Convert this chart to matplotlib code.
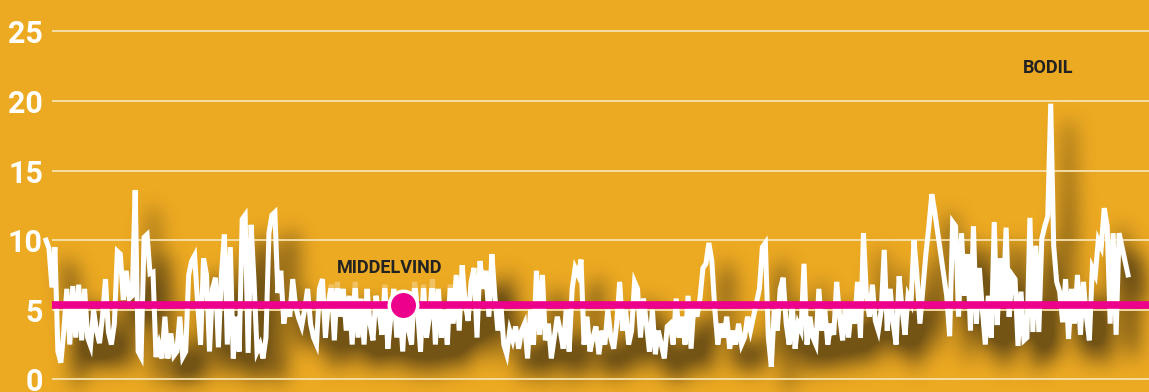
import numpy as np
import matplotlib
matplotlib.use("Agg")
import matplotlib.pyplot as plt

# daily mean wind (m/s)
wind = [
    10.0, 9.4, 6.6, 9.5, 2.0, 1.2, 3.5, 6.5, 2.5, 6.7, 3.0, 6.8, 2.8, 6.5, 3.0,
    2.4, 5.0, 3.5, 2.6, 4.5, 7.2, 3.4, 2.5, 4.0, 9.2, 9.0, 5.7, 7.8, 5.8, 6.0,
    13.6, 2.0, 1.6, 10.2, 10.4, 7.6, 7.7, 1.6, 2.5, 1.5, 4.5, 1.5, 3.3, 1.7, 2.0,
    4.5, 1.6, 2.0, 7.5, 8.5, 8.9, 5.5, 2.5, 8.7, 7.5, 2.0, 6.5, 7.3, 2.3, 7.5,
    10.4, 2.5, 9.5, 1.5, 4.5, 2.0, 11.5, 11.8, 1.9, 11.1, 7.0, 2.0, 2.5, 1.5, 3.0,
    10.5, 11.8, 12.0, 6.2, 7.8, 4.0, 5.5, 4.5, 7.2, 5.2, 4.4, 3.8, 5.0, 6.5, 4.0,
    3.0, 2.5, 6.5, 7.2, 3.0, 5.5, 6.8, 2.8, 7.0, 4.5, 6.5, 3.5, 6.0, 2.5, 7.0,
    3.0, 5.8, 2.5, 6.5, 4.0, 2.8, 6.0, 5.0, 3.2, 6.8, 2.2, 4.5, 6.5, 3.0, 5.5,
    2.0, 6.0, 3.5, 2.5, 7.0, 5.0, 2.0, 6.8, 3.0, 4.5, 7.2, 2.5, 6.5, 3.0, 5.0,
    2.5, 6.8, 4.0, 7.5, 3.5, 8.2, 5.5, 4.2, 7.0, 8.0, 3.0, 8.5, 6.5, 7.8, 4.5,
    9.0, 6.0, 3.5, 5.5, 2.5, 1.8, 3.5, 2.8, 3.8, 2.2, 3.5, 4.0, 1.5, 5.0, 2.5,
    7.8, 3.2, 7.5, 2.8, 4.0, 1.5, 3.0, 4.5, 3.5, 2.2, 5.0, 2.0, 6.5, 8.0, 7.5,
    8.6, 2.5, 4.5, 2.0, 3.0, 3.8, 1.8, 3.5, 2.5, 5.0, 3.0, 2.2, 4.0, 7.0, 3.5,
    5.0, 2.5, 3.5, 7.0, 6.5, 3.0, 5.8, 4.0, 2.0, 5.0, 1.8, 3.5, 2.5, 1.5, 3.8,
    4.0, 2.5, 5.8, 3.0, 4.5, 2.5, 6.0, 2.2, 5.5, 4.5, 5.8, 8.0, 8.3, 9.8, 8.5,
    5.0, 2.5, 4.0, 3.0, 4.5, 2.2, 3.5, 2.5, 4.0, 2.5, 3.0, 4.5, 3.5, 4.5, 5.5,
    6.5, 9.5, 9.8, 3.0, 0.9, 5.0, 3.5, 6.5, 7.3, 4.0, 2.5, 5.5, 2.2, 4.0, 3.5,
    8.3, 2.5, 4.5, 3.0, 2.5, 6.5, 3.5, 5.0, 2.5, 4.0, 3.2, 7.0, 4.5, 2.8, 5.5,
    3.0, 5.5, 4.0, 7.0, 3.0, 10.5, 6.0, 4.5, 6.8, 4.2, 3.5, 5.0, 9.3, 3.5, 6.5,
    4.0, 2.5, 7.4, 5.0, 3.2, 6.0, 5.5, 10.0, 7.5, 4.0, 6.5, 9.0, 11.0, 13.3, 12.0,
    10.5, 9.0, 7.5, 6.0, 3.1, 11.3, 11.0, 4.5, 10.5, 6.0, 9.0, 3.5, 11.0, 4.0, 8.0,
    5.0, 2.5, 6.0, 3.0, 11.3, 3.9, 8.7, 5.4, 10.9, 4.5, 7.5, 7.2, 2.4, 6.3, 2.8,
    3.0, 11.6, 3.4, 9.6, 3.4, 10.1, 11.0, 11.7, 19.8, 9.6, 7.0, 6.3, 4.1, 7.2, 2.9,
    6.5, 4.0, 7.5, 3.2, 7.0, 4.5, 2.8, 8.0, 7.5, 10.0, 9.5, 12.3, 11.0, 4.0, 10.5,
    3.2, 10.5, 9.5, 8.5, 7.5,
]
days = np.arange(len(wind))
mean_wind = 5.35
mean_day = 120
yticks = [0, 5, 10, 15, 20, 25]
ytick_labels = ["0", "5", "10", "15", "20", "25"]

ORANGE = "#ECA922"
MAGENTA = "#EC008C"
GRID = "#F7E2AE"
SHADOW = np.array([0.27, 0.20, 0.07])

W, H, DPI = 1149, 392, 100
ax_rect = [52 / W, 0, 1 - 52 / W, 1]
px_per_day = 1082 / 364
x0 = (52 - 46) / px_per_day
xlim = (x0, x0 + (W - 52) / px_per_day)
ylim = (-0.91, 27.25)


def setup(fig):
    ax = fig.add_axes(ax_rect)
    ax.set_xlim(*xlim)
    ax.set_ylim(*ylim)
    ax.set_facecolor("none")
    for s in ax.spines.values():
        s.set_visible(False)
    return ax


# --- shadow: render line alone, blur it, shift it
sfig = plt.figure(figsize=(W / DPI, H / DPI), dpi=DPI)
sfig.patch.set_alpha(0)
sax = setup(sfig)
sax.axis("off")
sax.plot(days, wind, color="black", lw=4.0, clip_on=False)
sfig.canvas.draw()
alpha = np.asarray(sfig.canvas.buffer_rgba())[:, :, 3].astype(float) / 255.0
plt.close(sfig)

sigma = 10.0
k = np.arange(-int(3 * sigma), int(3 * sigma) + 1)
kern = np.exp(-0.5 * (k / sigma) ** 2)
kern /= kern.sum()
pad = len(k)
a = np.pad(alpha, pad)
blur = np.zeros_like(a)
for kk, w in zip(k, kern):
    blur += w * np.roll(a, kk, axis=1)
a2 = np.zeros_like(blur)
for kk, w in zip(k, kern):
    a2 += w * np.roll(blur, kk, axis=0)
dx, dy = 18, 22
a2 = np.roll(np.roll(a2, dy, axis=0), dx, axis=1)[pad:-pad, pad:-pad]
a2 = np.clip(a2 * 0.95, 0, 0.72)
shadow = np.zeros((H, W, 4))
shadow[:, :, :3] = SHADOW
shadow[:, :, 3] = a2

# --- main figure
fig = plt.figure(figsize=(W / DPI, H / DPI), dpi=DPI, facecolor=ORANGE)
fig.figimage(shadow, 0, 0, origin="upper", zorder=-1)
ax = setup(fig)

ax.set_yticks(yticks)
ax.set_yticklabels(ytick_labels)
ax.set_xticks([])
ax.tick_params(axis="y", length=0, pad=6.5, labelcolor="white", labelsize=22)
for t in ax.get_yticklabels():
    t.set_fontfamily("Roboto")
    t.set_fontweight("bold")
ax.yaxis.grid(True, color=GRID, lw=1.3)
ax.set_axisbelow(True)

ax.plot(days, wind, color="white", lw=3.6, solid_joinstyle="miter",
        zorder=3, clip_on=False)
ax.axhline(mean_wind, color=MAGENTA, lw=5.5, zorder=4)
ax.plot(mean_day, mean_wind, "o", ms=20.5, mfc=MAGENTA, mec="white",
        mew=2.5, zorder=5)

ax.text(mean_day - 4.5, 8.0, "MIDDELVIND", fontsize=13, fontfamily="Roboto",
        fontweight="bold", color="#222222", ha="center", va="center", zorder=4.5,
        bbox=dict(boxstyle="square,pad=0.6", fc=ORANGE, ec="none", alpha=0.7))

peak = int(np.argmax(wind))
ax.text(peak - 1, 22.4, "BODIL", fontsize=13, fontfamily="Roboto",
        fontweight="bold", color="#222222", ha="center", va="center", zorder=4)

fig.savefig("out.png", dpi=DPI, facecolor=ORANGE)
